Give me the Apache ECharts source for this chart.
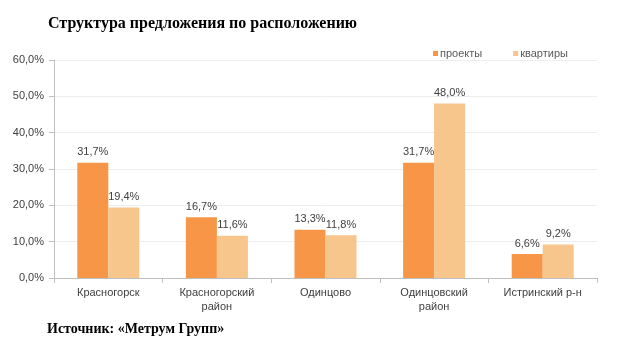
<!DOCTYPE html>
<html><head><meta charset="utf-8">
<script src="https://cdn.jsdelivr.net/npm/echarts@6/dist/echarts.min.js"></script>
<style>html,body{margin:0;padding:0;background:#fff}#c{width:634px;height:345px}</style>
</head><body><div id="c"></div>
<script>
const categories = ['Красногорск', 'Красногорский\nрайон', 'Одинцово', 'Одинцовский\nрайон', 'Истринский р-н'];
const projects = [31.7, 16.7, 13.3, 31.7, 6.6];
const apartments = [19.4, 11.6, 11.8, 48.0, 9.2];
const seriesNames = ['проекты', 'квартиры'];
const yTicks = [0, 10, 20, 30, 40, 50, 60];

const fmt = v => v.toFixed(1).replace('.', ',') + '%';
const chart = echarts.init(document.getElementById('c'));
const lbl = {show: true, position: 'top', distance: 5, color: '#404040', fontSize: 11,
  fontFamily: 'Liberation Sans, Arial', formatter: p => fmt(p.value)};
chart.setOption({
  animation: false,
  title: [
    {text: 'Структура предложения по расположению', left: 43, top: 11,
     textStyle: {fontFamily: 'Liberation Serif, Times New Roman', fontWeight: 'bold', fontSize: 16, color: '#000'}},
    {text: 'Источник: «Метрум Групп»', left: 42, top: 317,
     textStyle: {fontFamily: 'Liberation Serif, Times New Roman', fontWeight: 'bold', fontSize: 14, color: '#000'}}
  ],
  legend: {
    data: seriesNames, left: 428, top: 43, itemWidth: 5, itemHeight: 5, itemGap: 31,
    icon: 'rect',
    textStyle: {fontFamily: 'Liberation Sans, Arial', fontSize: 11, color: '#595959', padding: [0,0,0,-3]}
  },
  grid: {left: 54, right: 37, top: 60, bottom: 67, containLabel: false},
  xAxis: {
    type: 'category', data: categories,
    axisLine: {lineStyle: {color: '#BFBFBF'}},
    axisTick: {show: true, length: 5, lineStyle: {color: '#BFBFBF'}},
    axisLabel: {color: '#404040', fontSize: 11, fontFamily: 'Liberation Sans, Arial', margin: 8, lineHeight: 14}
  },
  yAxis: {
    type: 'value', min: yTicks[0], max: yTicks[yTicks.length - 1], interval: 10,
    axisLine: {show: true, lineStyle: {color: '#BFBFBF'}},
    axisTick: {show: true, length: 5, lineStyle: {color: '#BFBFBF'}},
    splitLine: {lineStyle: {color: '#EDEDED'}},
    axisLabel: {color: '#404040', fontSize: 11, fontFamily: 'Liberation Sans, Arial', margin: 10, formatter: v => fmt(v)}
  },
  series: [
    {name: seriesNames[0], type: 'bar', data: projects, barWidth: 31, barGap: '0%',
     itemStyle: {color: '#F79646'}, label: lbl},
    {name: seriesNames[1], type: 'bar', data: apartments, barWidth: 31,
     itemStyle: {color: '#F7C68C'}, label: lbl}
  ]
});
</script></body></html>
